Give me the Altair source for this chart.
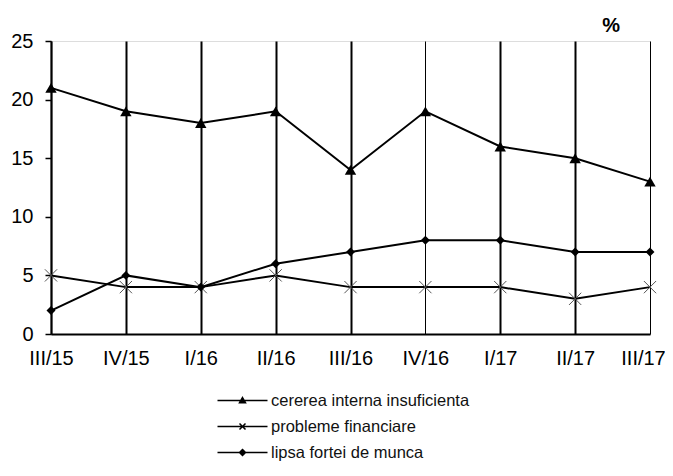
import altair as alt
import pandas as pd

quarters = ["III/15", "IV/15", "I/16", "II/16", "III/16", "IV/16", "I/17", "II/17", "III/17"]
cererea = [21, 19, 18, 19, 14, 19, 16, 15, 13]
probleme = [5, 4, 4, 5, 4, 4, 4, 3, 4]
lipsa = [2, 5, 4, 6, 7, 8, 8, 7, 7]
series_names = ["cererea interna insuficienta", "probleme financiare", "lipsa fortei de munca"]
y_ticks = [0, 5, 10, 15, 20, 25]

rows = []
for name, vals in zip(series_names, [cererea, probleme, lipsa]):
    for q, v in zip(quarters, vals):
        rows.append({"trimestru": q, "serie": name, "valoare": v})
df = pd.DataFrame(rows)

FONT = "Liberation Sans"

x_enc = alt.X(
    "trimestru:N",
    sort=quarters,
    scale=alt.Scale(type="point", padding=0),
    axis=alt.Axis(
        title=None, labelAngle=0, ticks=False, domain=True,
        domainColor="black", domainWidth=2,
        grid=True, gridColor="black",
        gridWidth={"condition": {"test": "datum.value === 'IV/16' || datum.value === 'III/17'", "value": 1}, "value": 2},
        labelOffset={"condition": {"test": "datum.value === 'III/17'", "value": -7}, "value": 0},
        labelFont=FONT, labelFontSize=20, labelColor="black", labelPadding=14,
    ),
)
y_enc = alt.Y(
    "valoare:Q",
    scale=alt.Scale(domain=[0, 25], nice=False),
    axis=alt.Axis(
        title=None, values=y_ticks, grid=False, tickColor="black", tickSize=6, tickWidth=1.5,
        domainColor="black", domainWidth=1.5,
        labelFont=FONT, labelFontSize=20, labelColor="black", labelPadding=12,
    ),
)

base = alt.Chart(df)

lines = base.mark_line(color="black", strokeWidth=2).encode(x=x_enc, y=y_enc, detail="serie:N")

marker_styles = [
    dict(shape="triangle-up", filled=True, color="black", size=130),
    dict(shape="M-1,-1L1,1M-1,1L1,-1", filled=False, color="#555555", size=150, strokeWidth=1),
    dict(shape="diamond", filled=True, color="black", size=80),
]
point_layers = []
for name, st in zip(series_names, marker_styles):
    point_layers.append(
        base.transform_filter(alt.datum.serie == name)
        .mark_point(opacity=1, **st)
        .encode(x=x_enc, y=y_enc)
    )

legend_paths = [
    "M-2,0L2,0M0,-0.24L0.24,0.18L-0.24,0.18Z",
    "M-2,0L2,0M-0.24,-0.24L0.24,0.24M-0.24,0.24L0.24,-0.24",
    "M-2,0L2,0M0,-0.24L0.24,0L0,0.24L-0.24,0Z",
]
legend_layer = base.mark_point(opacity=0, filled=False, color="black").encode(
    x=x_enc, y=y_enc,
    fill=alt.Fill("serie:N", scale=alt.Scale(domain=series_names, range=["black", "black", "black"]), legend=None),
    shape=alt.Shape(
        "serie:N",
        scale=alt.Scale(domain=series_names, range=legend_paths),
        sort=series_names,
        legend=alt.Legend(
            title=None, orient="none", legendX=178, legendY=346, padding=0,
            rowPadding=4, symbolSize=625, labelOffset=15,
            labelFont=FONT, labelFontSize=16.5, labelColor="#111111", labelLimit=400,
            symbolStrokeWidth=1.5, symbolOpacity=1,
            symbolFillColor="black", symbolStrokeColor="black",
        ),
    ),
)

chart = alt.layer(lines, *point_layers, legend_layer).properties(
    width=599,
    height=293,
    autosize=alt.AutoSizeParams(type="none"),
    padding={"left": 43, "top": 33, "right": 15, "bottom": 130},
    title=alt.TitleParams("%", anchor="end", frame="group", dx=-30, dy=15, offset=10,
                          font=FONT, fontSize=20, fontWeight="bold", color="black"),
).configure_view(stroke="black", strokeWidth=1.5).configure(background="white")

chart.save("out.html", embed_options={"renderer": "svg", "actions": False})
